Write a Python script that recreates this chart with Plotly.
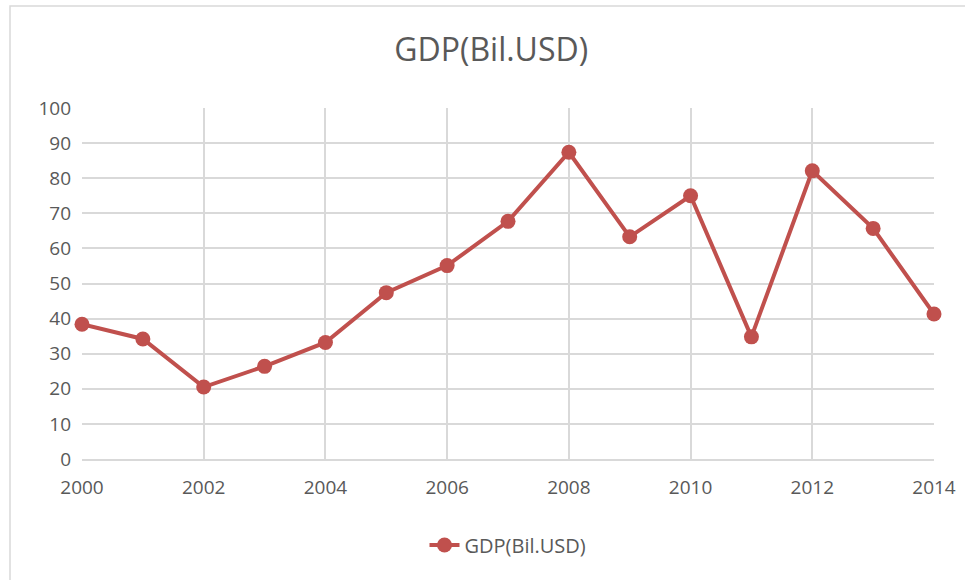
import plotly.graph_objects as go

years = [2000, 2001, 2002, 2003, 2004, 2005, 2006, 2007, 2008, 2009, 2010, 2011, 2012, 2013, 2014]
gdp = [38.4, 34.2, 20.5, 26.4, 33.2, 47.4, 55.1, 67.7, 87.4, 63.3, 75.0, 34.8, 82.1, 65.7, 41.3]
series_name = "GDP(Bil.USD)"
title_text = "GDP(Bil.USD)"

font_family = "Open Sans, Noto Sans, sans-serif"
text_color = "#595959"
grid_color = "#D9D9D9"
line_color = "#C0504D"

fig = go.Figure()
fig.add_trace(go.Scatter(
    x=years, y=gdp, mode="lines+markers", name=series_name,
    line=dict(color=line_color, width=4),
    marker=dict(color=line_color, size=15),
    cliponaxis=False,
))

fig.update_layout(
    width=965, height=580,
    paper_bgcolor="white", plot_bgcolor="white",
    margin=dict(l=82, r=31, t=108, b=121, autoexpand=False),
    title=dict(text=title_text, x=0.509, xanchor="center", y=0.915, yanchor="middle",
               font=dict(family=font_family, size=32, color=text_color)),
    font=dict(family=font_family, size=19, color=text_color),
    showlegend=True,
    legend=dict(orientation="h", x=0.5, xanchor="center", y=-0.245, yanchor="middle",
                font=dict(family=font_family, size=20, color=text_color)),
    xaxis=dict(range=[2000, 2014], tickmode="linear", tick0=2000, dtick=2,
               showgrid=True, gridcolor=grid_color, gridwidth=1.5,
               showline=True, linecolor=grid_color, linewidth=1.5,
               zeroline=False, ticks="", ticklabelstandoff=10, automargin=False,
               tickfont=dict(family=font_family, size=19, color=text_color)),
    yaxis=dict(range=[0, 100], tickmode="linear", tick0=0, dtick=10,
               showgrid=True, gridcolor=grid_color, gridwidth=1.5,
               showline=False, zeroline=False, ticks="", ticklabelstandoff=10, automargin=False,
               tickfont=dict(family=font_family, size=19, color=text_color)),
    shapes=[dict(type="rect", xref="paper", yref="paper", x0=-0.0845, y0=-0.40, x1=1.06, y1=1.2906,
                 line=dict(color="#D9D9D9", width=1.5), fillcolor="rgba(0,0,0,0)", layer="below")],
)

fig.write_html("out.html", config={"displayModeBar": False},
               post_script="document.body.style.margin='0px';document.body.style.overflow='hidden';")
